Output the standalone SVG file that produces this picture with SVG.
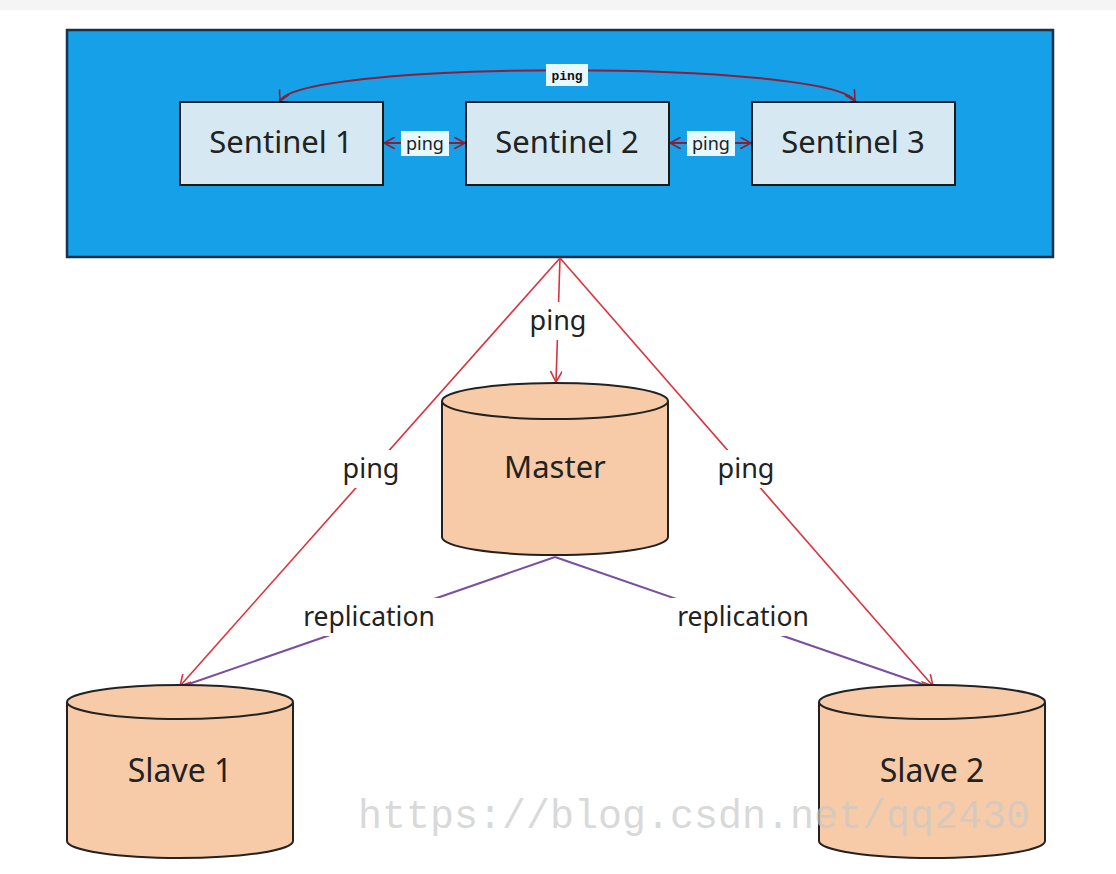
<svg xmlns="http://www.w3.org/2000/svg" width="1116" height="874" viewBox="0 0 1116 874">
<defs>
<style>
.lbl{font-family:"Noto Sans","Open Sans",sans-serif;fill:#222;text-anchor:middle}
.sent{fill:#d6e9f3;stroke:#1a1a1a;stroke-width:2}
.cyl{fill:#f7cba8;stroke:#222;stroke-width:2}
.red{stroke:#d8333d;stroke-width:1.6;fill:none}
.dred{stroke:#8b1f3a;stroke-width:2;fill:none}
.pur{stroke:#7a4ea0;stroke-width:2;fill:none}
.tag{fill:#e8f8ff}
</style>
<marker id="ar" viewBox="0 0 12 12" refX="11" refY="6" markerWidth="12" markerHeight="12" markerUnits="userSpaceOnUse" orient="auto-start-reverse"><path d="M0,0 L11,6 L0,12" fill="none" stroke="#d8333d" stroke-width="1.6"/></marker>
<marker id="ad" viewBox="0 0 12 12" refX="11" refY="6" markerWidth="12" markerHeight="12" markerUnits="userSpaceOnUse" orient="auto-start-reverse"><path d="M0,0 L11,6 L0,12" fill="none" stroke="#8b1f3a" stroke-width="1.6"/></marker>
</defs>
<rect x="0" y="0" width="1116" height="874" fill="#ffffff"/>
<rect x="0" y="0" width="1116" height="10" fill="#f5f5f5"/>
<g id="cluster">
<rect x="67" y="30" width="986" height="227" fill="#15a0e8" stroke="#17324a" stroke-width="2.5"/>
</g>
<g id="connectors">
<path class="dred" d="M280,101 C300,60 830,60 855,101" marker-start="url(#ad)" marker-end="url(#ad)"/>
<line class="dred" x1="384" y1="143" x2="465" y2="143" marker-start="url(#ad)" marker-end="url(#ad)"/>
<line class="dred" x1="670" y1="143" x2="751" y2="143" marker-start="url(#ad)" marker-end="url(#ad)"/>
<line class="red" x1="560" y1="258" x2="556" y2="382" marker-end="url(#ar)"/>
<line class="red" x1="560" y1="258" x2="180" y2="686" marker-end="url(#ar)"/>
<line class="red" x1="560" y1="258" x2="933" y2="686" marker-end="url(#ar)"/>
<line class="pur" x1="555" y1="557" x2="183" y2="686"/>
<line class="pur" x1="555" y1="557" x2="928" y2="686"/>
<rect class="tag" x="546" y="64" width="42" height="22"/>
<text x="567" y="80" font-family="Liberation Mono,monospace" font-size="13" font-weight="bold" fill="#111" text-anchor="middle">ping</text>
<rect class="tag" x="401" y="131" width="48" height="25"/>
<text class="lbl" x="425" y="150" font-size="18">ping</text>
<rect class="tag" x="687" y="131" width="48" height="25"/>
<text class="lbl" x="711" y="150" font-size="18">ping</text>
<rect x="524" y="302" width="68" height="38" fill="#ffffff"/>
<text class="lbl" x="558" y="330" font-size="27">ping</text>
<rect x="336" y="450" width="70" height="38" fill="#ffffff"/>
<text class="lbl" x="371" y="478" font-size="27">ping</text>
<rect x="711" y="450" width="70" height="38" fill="#ffffff"/>
<text class="lbl" x="746" y="478" font-size="27">ping</text>
<rect x="297" y="598" width="144" height="38" fill="#ffffff"/>
<text class="lbl" x="369" y="626" font-size="26.5">replication</text>
<rect x="671" y="598" width="144" height="38" fill="#ffffff"/>
<text class="lbl" x="743" y="626" font-size="26.5">replication</text>
</g>
<g id="sentinel1">
<rect class="sent" x="180" y="102" width="203" height="83"/>
<text class="lbl" x="281" y="153" font-size="31">Sentinel 1</text>
</g>
<g id="sentinel2">
<rect class="sent" x="466" y="102" width="203" height="83"/>
<text class="lbl" x="567" y="153" font-size="31">Sentinel 2</text>
</g>
<g id="sentinel3">
<rect class="sent" x="752" y="102" width="203" height="83"/>
<text class="lbl" x="853" y="153" font-size="31">Sentinel 3</text>
</g>
<g id="master">
<path class="cyl" d="M442,401 A113,18 0 0 1 668,401 L668,537 A113,18 0 0 1 442,537 Z"/>
<path class="cyl" d="M442,401 A113,18 0 0 0 668,401" fill="none"/>
<text class="lbl" x="555" y="478" font-size="31">Master</text>
</g>
<g id="slave1">
<path class="cyl" d="M67,702 A113,17 0 0 1 293,702 L293,841 A113,17 0 0 1 67,841 Z"/>
<path class="cyl" d="M67,702 A113,17 0 0 0 293,702" fill="none"/>
<text class="lbl" x="180" y="782" font-size="32">Slave 1</text>
</g>
<g id="slave2">
<path class="cyl" d="M819,702 A113,17 0 0 1 1045,702 L1045,841 A113,17 0 0 1 819,841 Z"/>
<path class="cyl" d="M819,702 A113,17 0 0 0 1045,702" fill="none"/>
<text class="lbl" x="932" y="782" font-size="32">Slave 2</text>
</g>
<text x="358" y="828" font-family="Liberation Mono,monospace" font-size="40" fill="#c8c8c8" fill-opacity="0.7">https://blog.csdn.net/qq2430</text>
</svg>
